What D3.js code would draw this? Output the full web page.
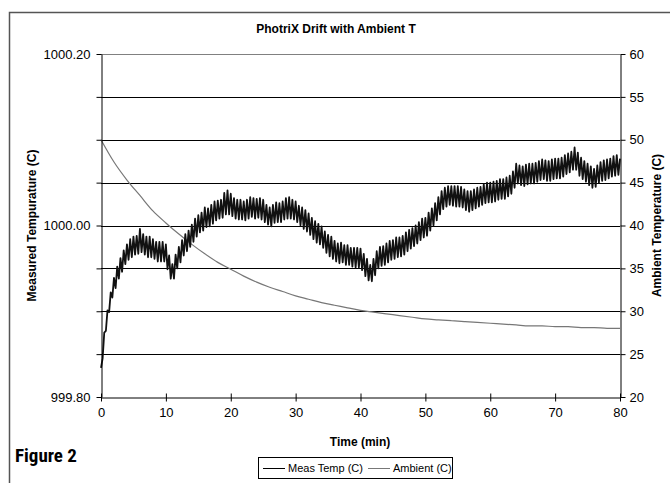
<!DOCTYPE html>
<html><head><meta charset="utf-8">
<script src="https://cdn.jsdelivr.net/npm/d3@7"></script>
<style>
body{margin:0;background:#fff}
svg{display:block}
text{font-family:"Liberation Sans",Arial,sans-serif}
</style>
</head><body>
<svg id="c" width="670" height="483"></svg>
<script>
const chartTitle = "PhotriX Drift with Ambient T";
const xTitle = "Time (min)";
const yLeftTitle = "Measured Tempurature (C)";
const yRightTitle = "Ambient Temperature (C)";
const figureLabel = "Figure 2";
const seriesNames = ["Meas Temp (C)", "Ambient (C)"];
const xTicks = [0, 10, 20, 30, 40, 50, 60, 70, 80];
const leftTicks = [999.80, 999.85, 999.90, 999.95, 1000.00, 1000.05, 1000.10, 1000.15, 1000.20];
const leftTickLabels = ["999.80", "", "", "", "1000.00", "", "", "", "1000.20"];
const rightTicks = [20, 25, 30, 35, 40, 45, 50, 55, 60];

// Measured temperature, sampled every 0.25 min from t = 0
const measStep = 0.25;
const measTemp = [
999.834,999.845,999.875,999.877, 999.901,999.899,999.922,999.916,
999.939,999.927,999.952,999.938, 999.962,999.946,999.971,999.955,
999.978,999.960,999.984,999.963, 999.987,999.966,999.988,999.967,
999.996,999.969,999.990,999.966, 999.987,999.963,999.987,999.963,
999.984,999.961,999.981,999.958, 999.981,999.958,999.981,999.958,
999.978,999.949,999.965,999.938, 999.955,999.938,999.966,999.950,
999.975,999.957,999.983,999.965, 999.990,999.970,999.994,999.975,
1000.001,999.981,1000.008,999.987, 1000.012,999.992,1000.015,999.994,
1000.021,999.998,1000.020,999.999, 1000.024,1000.002,1000.028,1000.006,
1000.029,1000.008,1000.030,1000.009, 1000.038,1000.013,1000.041,1000.013,
1000.037,1000.011,1000.032,1000.008, 1000.030,1000.007,1000.030,1000.007,
1000.028,1000.006,1000.030,1000.008, 1000.033,1000.010,1000.032,1000.008,
1000.031,1000.009,1000.032,1000.007, 1000.030,1000.004,1000.024,1000.001,
1000.021,999.999,1000.024,1000.003, 1000.027,1000.004,1000.026,1000.004,
1000.028,1000.007,1000.032,1000.008, 1000.033,1000.008,1000.030,1000.007,
1000.028,1000.004,1000.023,1000.000, 1000.021,999.996,1000.018,999.993,
1000.014,999.989,1000.009,999.984, 1000.005,999.980,1000.002,999.978,
999.999,999.974,999.993,999.968, 999.989,999.964,999.987,999.961,
999.982,999.958,999.979,999.956, 999.980,999.957,999.977,999.954,
999.977,999.954,999.974,999.952, 999.974,999.951,999.974,999.951,
999.973,999.948,999.967,999.941, 999.961,999.936,999.954,999.935,
999.961,999.942,999.970,999.950, 999.975,999.953,999.976,999.954,
999.979,999.957,999.982,999.960, 999.983,999.961,999.986,999.963,
999.986,999.964,999.988,999.966, 999.992,999.970,999.995,999.973,
999.997,999.976,1000.000,999.979, 1000.004,999.983,1000.008,999.986,
1000.009,999.988,1000.015,999.994, 1000.020,1000.000,1000.026,1000.006,
1000.033,1000.013,1000.040,1000.019, 1000.044,1000.022,1000.046,1000.024,
1000.046,1000.023,1000.046,1000.022, 1000.046,1000.022,1000.045,1000.021,
1000.042,1000.018,1000.040,1000.016, 1000.040,1000.018,1000.042,1000.020,
1000.044,1000.022,1000.045,1000.024, 1000.048,1000.026,1000.050,1000.027,
1000.050,1000.027,1000.051,1000.028, 1000.052,1000.030,1000.054,1000.031,
1000.054,1000.031,1000.056,1000.034, 1000.058,1000.037,1000.063,1000.044,
1000.072,1000.049,1000.070,1000.047, 1000.069,1000.046,1000.071,1000.048,
1000.072,1000.049,1000.072,1000.049, 1000.073,1000.051,1000.075,1000.053,
1000.077,1000.054,1000.076,1000.052, 1000.075,1000.052,1000.077,1000.054,
1000.078,1000.055,1000.078,1000.055, 1000.079,1000.057,1000.082,1000.060,
1000.084,1000.062,1000.086,1000.065, 1000.091,1000.065,1000.085,1000.058,
1000.079,1000.054,1000.075,1000.051, 1000.072,1000.047,1000.069,1000.044,
1000.066,1000.045,1000.070,1000.050, 1000.074,1000.052,1000.076,1000.053,
1000.077,1000.055,1000.078,1000.057, 1000.081,1000.058,1000.082,1000.059,
1000.078
];

const ambientTime = [0,2,4,6,8,10,12,14,16,18,20,22,24,26,28,30,32,34,36,38,40,42,44,46,48,50,52,54,56,58,60,62,64,66,68,70,72,74,76,78,80];
const ambientTemp = [50.0,47.4,45.3,43.5,41.7,40.3,39.0,37.8,36.7,35.7,34.9,34.1,33.4,32.8,32.3,31.8,31.4,31.0,30.7,30.4,30.1,29.9,29.7,29.5,29.3,29.1,29.0,28.9,28.8,28.7,28.6,28.5,28.4,28.3,28.3,28.2,28.2,28.1,28.1,28.0,28.0];

const svg = d3.select("#c");
const X0 = 101, X1 = 620, Y0 = 54, Y1 = 397;
const x = d3.scaleLinear().domain([0, 80]).range([X0, X1]);
const yL = d3.scaleLinear().domain([999.8, 1000.2]).range([Y1, Y0]);
const yR = d3.scaleLinear().domain([20, 60]).range([Y1, Y0]);

// outer chart border (open right/bottom, cropped)
svg.append("path").attr("d", "M9.5,490V12.5H672")
  .attr("fill", "none").attr("stroke", "#555").attr("stroke-width", 1.5);

// gridlines
svg.append("g").selectAll("line").data(rightTicks.filter(d => d > 20 && d < 60)).join("line")
  .attr("x1", X0).attr("x2", X1)
  .attr("y1", d => Math.round(yR(d)) + 0.5).attr("y2", d => Math.round(yR(d)) + 0.5)
  .attr("stroke", "#000").attr("stroke-width", 1);
// top plot border
svg.append("line").attr("x1", X0).attr("x2", X1).attr("y1", Y0 + 0.5).attr("y2", Y0 + 0.5)
  .attr("stroke", "#808080").attr("stroke-width", 1);

// ambient
svg.append("path")
  .datum(ambientTime.map((t, i) => [t, ambientTemp[i]]))
  .attr("fill", "none").attr("stroke", "#777").attr("stroke-width", 1.2)
  .attr("d", d3.line().x(d => x(d[0])).y(d => yR(d[1])).curve(d3.curveMonotoneX));

// measured
svg.append("path")
  .datum(measTemp.map((v, i) => [i * measStep, v]))
  .attr("fill", "none").attr("stroke", "#111").attr("stroke-width", 1.8)
  .attr("stroke-linejoin", "round")
  .attr("d", d3.line().x(d => x(d[0])).y(d => yL(d[1])));

// axes
const gL = svg.append("g").attr("transform", `translate(${X0 + 0.5},0)`)
  .call(d3.axisLeft(yL).tickValues(leftTicks).tickFormat((d, i) => leftTickLabels[i]).tickSize(5).tickSizeOuter(0).tickPadding(6));
const gR = svg.append("g").attr("transform", `translate(${X1 + 0.5},0)`)
  .call(d3.axisRight(yR).tickValues(rightTicks).tickSize(5).tickSizeOuter(0).tickPadding(4));
const gB = svg.append("g").attr("transform", `translate(0,${Y1 + 0.5})`)
  .call(d3.axisBottom(x).tickValues(xTicks).tickSize(4).tickSizeOuter(0).tickPadding(6));
gB.selectAll(".tick line").attr("y1", -4);
[gL, gR, gB].forEach(g => {
  g.select(".domain").attr("stroke", "#000");
  g.selectAll(".tick line").attr("stroke", "#000");
  g.selectAll("text").attr("font-family", '"Liberation Sans",Arial,sans-serif').attr("font-size", 13).attr("fill", "#000");
});

// titles
svg.append("text").attr("x", 336).attr("y", 33).attr("text-anchor", "middle")
  .attr("font-weight", "bold").attr("font-size", 12).text(chartTitle);
svg.append("text").attr("x", 360).attr("y", 446).attr("text-anchor", "middle")
  .attr("font-weight", "bold").attr("font-size", 12).text(xTitle);
svg.append("text").attr("transform", `translate(36,${(Y0 + Y1) / 2}) rotate(-90)`).attr("text-anchor", "middle")
  .attr("font-weight", "bold").attr("font-size", 12).text(yLeftTitle);
svg.append("text").attr("transform", `translate(661,${(Y0 + Y1) / 2}) rotate(-90)`).attr("text-anchor", "middle")
  .attr("font-weight", "bold").attr("font-size", 12).text(yRightTitle);
svg.append("text").attr("x", 15).attr("y", 462)
  .style("font-family", '"Liberation Sans Narrow","Arial Narrow","Roboto Condensed",sans-serif')
  .attr("font-weight", "bold").attr("font-size", 19).text(figureLabel);

// legend
const lg = svg.append("g");
lg.append("rect").attr("x", 258.5).attr("y", 457.5).attr("width", 194).attr("height", 21)
  .attr("fill", "#fff").attr("stroke", "#000");
const legendX = [263, 368];
const legendColors = ["#000", "#777"];
seriesNames.forEach((n, i) => {
  lg.append("line").attr("x1", legendX[i]).attr("x2", legendX[i] + 22).attr("y1", 468.5).attr("y2", 468.5)
    .attr("stroke", legendColors[i]).attr("stroke-width", 1);
  lg.append("text").attr("x", legendX[i] + 25).attr("y", 472).attr("font-size", 11).text(n);
});
</script>
</body></html>
